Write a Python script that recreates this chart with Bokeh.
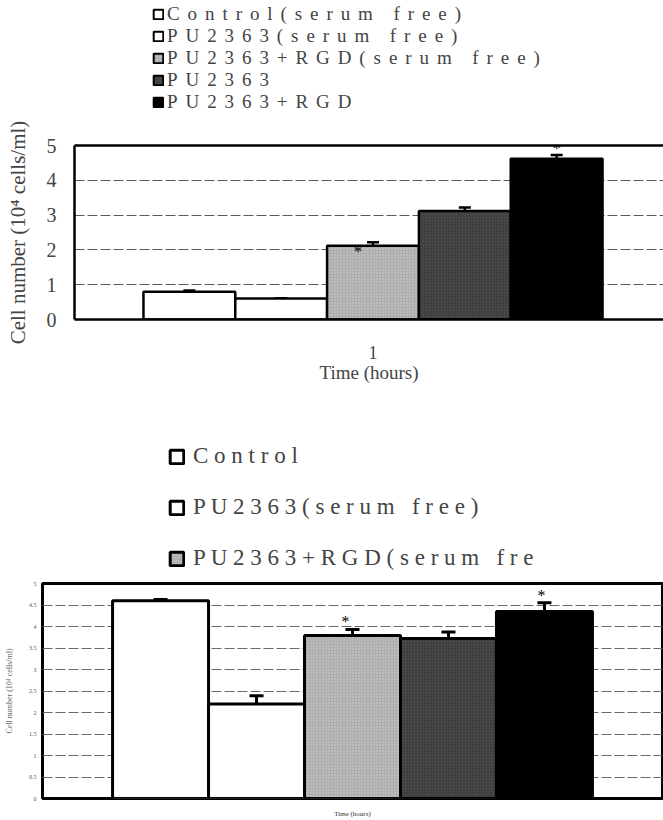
from bokeh.plotting import figure
from bokeh.models import (Range1d, FixedTicker, Legend, LegendItem, Whisker, TeeHead,
                          ColumnDataSource, LinearAxis)
from bokeh.layouts import column, row
from bokeh.embed import file_html
from bokeh.resources import INLINE
from bokeh.core.properties import value

# ---------------- data ----------------
time_label = "Time (hours)"
y_label = "Cell number (10\u2074 cells/ml)"
time_ticks = [1]

top_groups = ["Control(serum free)", "PU2363(serum free)", "PU2363+RGD(serum free)",
              "PU2363", "PU2363+RGD"]
top_means = [0.80, 0.60, 2.12, 3.12, 4.62]
top_errors = [0.03, 0.0, 0.10, 0.10, 0.11]
top_marks = ["", "", "*", "", "*"]
top_y_ticks = [0, 1, 2, 3, 4, 5]

bottom_groups = ["Control", "PU2363(serum free)", "PU2363+RGD(serum fre"]
bottom_means = [4.60, 2.20, 3.79, 3.72, 4.35]
bottom_errors = [0.03, 0.19, 0.14, 0.15, 0.20]
bottom_marks = ["", "", "*", "", "*"]
bottom_y_ticks = [0, 0.5, 1, 1.5, 2, 2.5, 3, 3.5, 4, 4.5, 5]

# ---------------- styles ----------------
SERIF = "Liberation Serif"
FILLS = ["white", "white", "#adadad", "#484848", "black"]
HATCH = [None, None, "dot", "dot", None]
HATCH_COLORS = ["white", "white", "#f0f0f0", "#151515", "black"]
TOP_STAR_DX = [0, 0, -15, 0, 0]
TOP_STAR_DY = [0, 0, 9, 0, -6]
BOT_STAR_DX = [0, 0, -7, 0, -3]
BOT_STAR_DY = [0, 0, -8, 0, -7]


def spaced(s, sep):
    return sep.join(s)


def bar_style(i, line_w):
    kw = dict(fill_color=FILLS[i], line_color="black", line_width=line_w)
    if HATCH[i]:
        kw.update(hatch_pattern=HATCH[i], hatch_color=HATCH_COLORS[i],
                  hatch_scale=3, hatch_weight=1, hatch_alpha=0.55)
    return kw


def bar_chart(p, means, errors, marks, step, line_w, head, star_size, sdx, sdy):
    xs = [1 + (i - 2) * step for i in range(len(means))]
    for i, (x, m) in enumerate(zip(xs, means)):
        p.vbar(x=[x], top=[m], bottom=0, width=step, **bar_style(i, line_w))
    src = ColumnDataSource(dict(x=xs, upper=[m + e for m, e in zip(means, errors)],
                                lower=[m - e for m, e in zip(means, errors)]))
    w = Whisker(source=src, base="x", upper="upper", lower="lower",
                line_color="black", line_width=line_w,
                upper_head=TeeHead(size=head, line_width=line_w, line_color="black"),
                lower_head=TeeHead(size=head, line_width=line_w, line_color="black"))
    p.add_layout(w)
    for i, (x, m, e, mk) in enumerate(zip(xs, means, errors, marks)):
        if mk:
            p.text(x=[x], y=[m + e], text=[mk], text_font=value(SERIF),
                   text_font_size=star_size, text_align="center", text_baseline="middle",
                   x_offset=sdx[i], y_offset=sdy[i], text_color="black")


def legend_figure(height, left, top, labels, means, sep, glyph, standoff, font_size,
                  label_h, spacing, line_w):
    f = figure(width=663, height=height, x_range=Range1d(0, 2), y_range=Range1d(0, 5),
               x_axis_type=None, y_axis_type=None, output_backend="svg",
               toolbar_location=None, min_border_left=left, min_border_top=top,
               min_border_right=0, min_border_bottom=0)
    f.outline_line_color = None
    f.xgrid.visible = False
    f.ygrid.visible = False
    items = []
    for i, (lab, m) in enumerate(zip(labels, means)):
        r = f.vbar(x=[1], top=[m], bottom=0, width=0.1, visible=False, **bar_style(i, line_w))
        items.append(LegendItem(label=spaced(lab, sep), renderers=[r]))
    leg = Legend(items=items, location="top_left", orientation="vertical", padding=0,
                 spacing=spacing, margin=0, glyph_width=glyph, glyph_height=glyph,
                 label_standoff=standoff, label_text_font=SERIF,
                 label_text_font_size=font_size, label_height=label_h,
                 inactive_fill_alpha=0, click_policy="none",
                 border_line_color=None, background_fill_alpha=0)
    f.add_layout(leg)
    return f


def style_grid(p, ticks, color):
    p.xgrid.grid_line_color = None
    p.ygrid.ticker = FixedTicker(ticks=ticks)
    p.ygrid.grid_line_color = color
    p.ygrid.grid_line_dash = "10 3"
    p.ygrid.grid_line_width = 1


def no_ticks(ax):
    ax.major_tick_line_color = None
    ax.minor_tick_line_color = None
    ax.major_tick_out = 0
    ax.major_tick_in = 0
    ax.minor_tick_out = 0
    ax.minor_tick_in = 0


# ---------------- top legend ----------------
lg1 = legend_figure(115, 152, 3, top_groups, top_means, "\u2004\u200a", 12, 3, "19px",
                    22, 0, 2)

# ---------------- top chart ----------------
p1 = figure(width=663, height=283, x_range=Range1d(0.5, 1.4866), y_range=Range1d(0, 5),
            output_backend="svg", toolbar_location=None,
            min_border_left=74, min_border_right=0, min_border_top=30, min_border_bottom=79)
p1.outline_line_color = None
p1.background_fill_color = "white"
p1.border_fill_color = "white"
style_grid(p1, top_y_ticks[1:-1], "#5a5a5a")

bar_chart(p1, top_means, top_errors, top_marks, 0.1538, 2.5, 12, "17px",
          TOP_STAR_DX, TOP_STAR_DY)

xa = p1.xaxis[0]
xa.ticker = FixedTicker(ticks=time_ticks)
xa.axis_label = time_label
xa.axis_line_width = 2.5
no_ticks(xa)
xa.major_label_standoff = 26
xa.major_label_text_font = SERIF
xa.major_label_text_font_size = "18px"
xa.axis_label_text_font = SERIF
xa.axis_label_text_font_size = "19px"
xa.axis_label_text_font_style = "normal"
xa.axis_label_standoff = 0

ya = p1.yaxis[0]
ya.ticker = FixedTicker(ticks=top_y_ticks)
ya.axis_label = y_label
ya.axis_line_width = 2.5
no_ticks(ya)
ya.major_label_standoff = 18
ya.major_label_text_font = SERIF
ya.major_label_text_font_size = "20px"
ya.axis_label_text_font = SERIF
ya.axis_label_text_font_size = "21px"
ya.axis_label_text_font_style = "normal"
ya.axis_label_standoff = 14

top_line = LinearAxis(ticker=FixedTicker(ticks=[]), axis_line_width=2.5,
                      major_label_text_font_size="0px")
no_ticks(top_line)
p1.add_layout(top_line, "above")

# ---------------- bottom legend ----------------
lg2 = legend_figure(180, 168, 43, bottom_groups, bottom_means, " ", 17, 8, "23px",
                    30, 21, 3)

# ---------------- bottom chart ----------------
p2 = figure(width=663, height=242, x_range=Range1d(0.5, 1.5), y_range=Range1d(0, 5),
            output_backend="svg", toolbar_location=None,
            min_border_left=42, min_border_right=1, min_border_top=5, min_border_bottom=22)
p2.outline_line_color = "black"
p2.outline_line_width = 3
p2.background_fill_color = "white"
p2.border_fill_color = "white"
style_grid(p2, bottom_y_ticks[1:-1], "#6a6a6a")

bar_chart(p2, bottom_means, bottom_errors, bottom_marks, 0.1548, 3, 14, "16px",
          BOT_STAR_DX, BOT_STAR_DY)

xb = p2.xaxis[0]
xb.ticker = FixedTicker(ticks=[])
xb.axis_label = time_label
xb.axis_line_color = None
no_ticks(xb)
xb.major_label_text_font_size = "0px"
xb.axis_label_text_font = SERIF
xb.axis_label_text_font_size = "7px"
xb.axis_label_text_font_style = "normal"
xb.axis_label_text_color = "#333333"
xb.axis_label_standoff = 11

yb = p2.yaxis[0]
yb.ticker = FixedTicker(ticks=bottom_y_ticks)
yb.axis_label = y_label
yb.axis_line_color = None
no_ticks(yb)
yb.major_label_standoff = 6
yb.major_label_text_font = SERIF
yb.major_label_text_font_size = "6px"
yb.major_label_text_color = "#555555"
yb.axis_label_text_font = SERIF
yb.axis_label_text_font_size = "8px"
yb.axis_label_text_font_style = "normal"
yb.axis_label_text_color = "#666666"
yb.axis_label_standoff = 12

layout = column(row(lg1), row(p1), row(lg2), row(p2), spacing=0)
open("out.html", "w").write(file_html(layout, INLINE))
